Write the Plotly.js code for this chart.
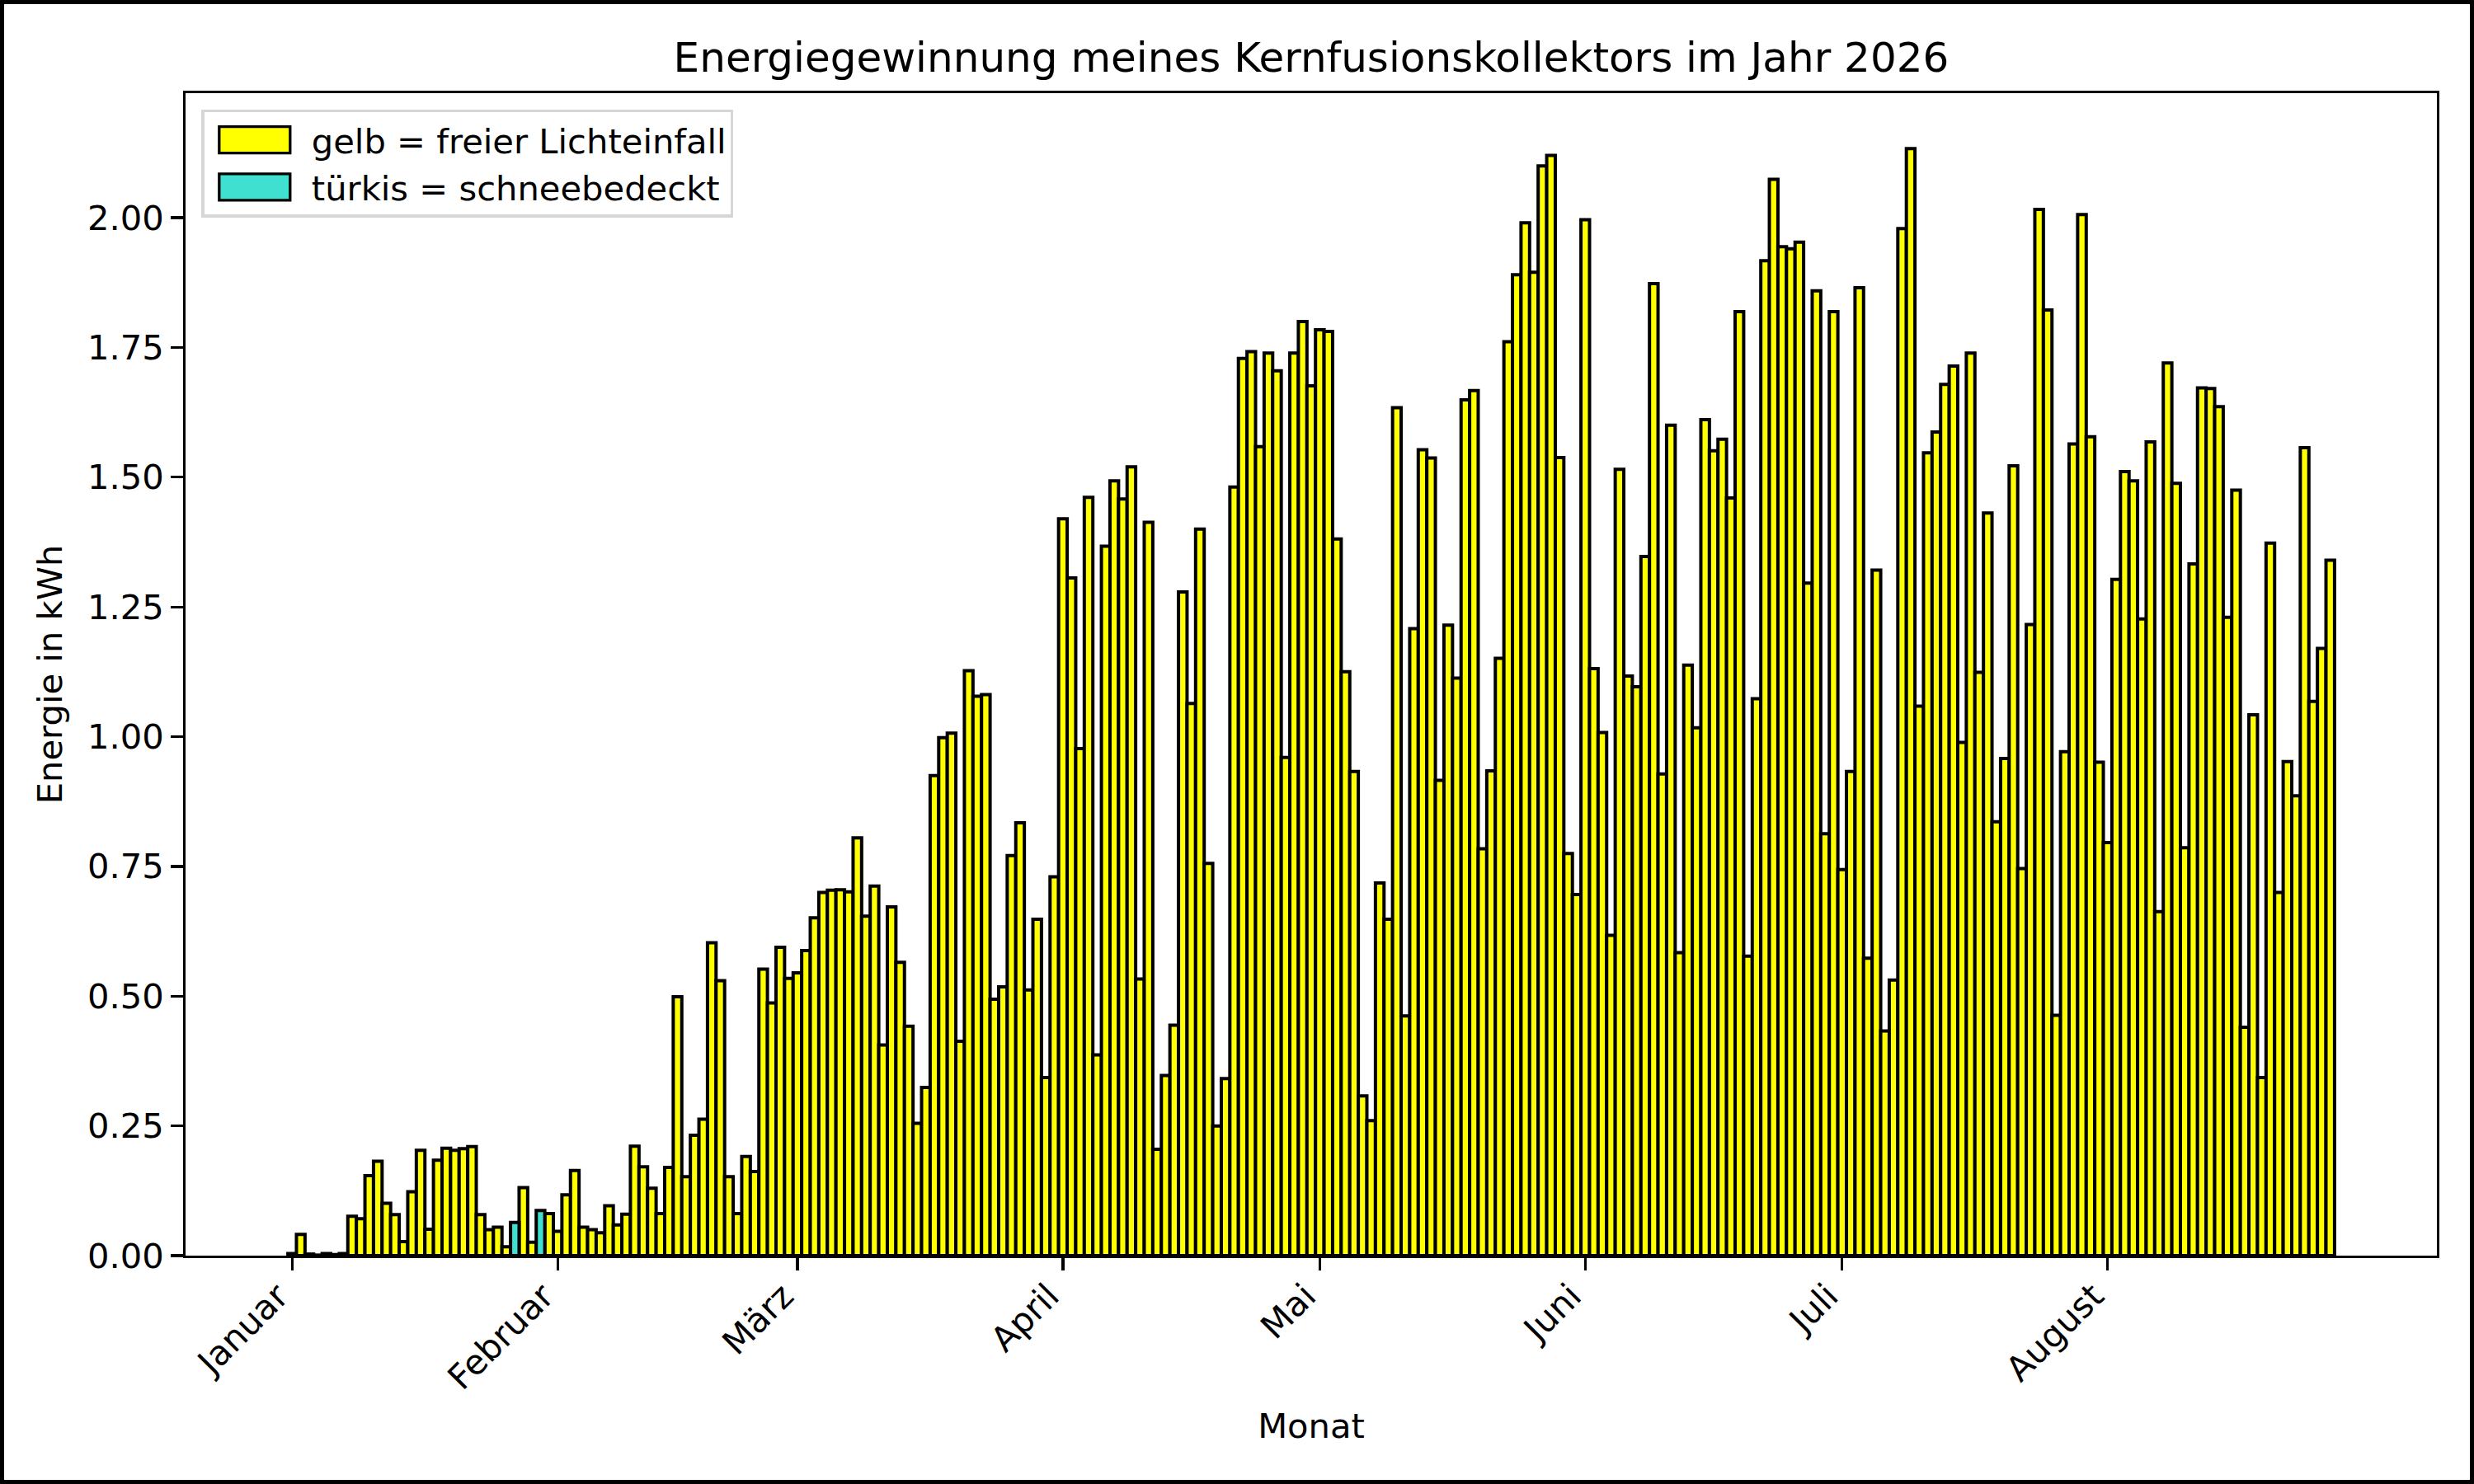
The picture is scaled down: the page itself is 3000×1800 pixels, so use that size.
<!DOCTYPE html>
<html>
<head>
<meta charset="utf-8">
<script src="https://cdn.plot.ly/plotly-3.0.1.min.js"></script>
<style>
html, body { margin: 0; padding: 0; background: #ffffff; }
#chart { width: 3000px; height: 1800px; }
#frame { position: absolute; left: 0; top: 0; width: 3000px; height: 1800px; box-sizing: border-box; border: 5px solid #000; pointer-events: none; }
</style>
</head>
<body>
<div id="chart"></div>
<div id="frame"></div>
<script>
// ---- data (kWh per day) ----
const monthNames = ['Januar', 'Februar', 'März', 'April', 'Mai', 'Juni', 'Juli', 'August'];
const monthStarts = ['2026-01-01', '2026-02-01', '2026-03-01', '2026-04-01', '2026-05-01', '2026-06-01', '2026-07-01', '2026-08-01'];

const jan = [0.004, 0.041, 0.003, 0.001, 0.004, 0.002, 0.004, 0.076, 0.071, 0.154, 0.182, 0.101, 0.079, 0.027, 0.123, 0.203,
             0.051, 0.184, 0.207, 0.203, 0.206, 0.210, 0.079, 0.050, 0.055, 0.017, 0.064, 0.131, 0.026, 0.087, 0.081];
const feb = [0.047, 0.117, 0.164, 0.055, 0.050, 0.044, 0.096, 0.059, 0.080, 0.211, 0.171, 0.130, 0.081, 0.170,
             0.499, 0.152, 0.232, 0.263, 0.603, 0.530, 0.152, 0.081, 0.191, 0.162, 0.552, 0.487, 0.594, 0.534];
const mar = [0.545, 0.588, 0.651, 0.700, 0.704, 0.705, 0.701, 0.805, 0.654, 0.712, 0.406, 0.672, 0.565, 0.442, 0.255, 0.324,
             0.925, 0.998, 1.007, 0.413, 1.127, 1.078, 1.081, 0.494, 0.518, 0.771, 0.834, 0.512, 0.648, 0.343, 0.730];
const apr = [1.420, 1.306, 0.977, 1.461, 0.387, 1.367, 1.493, 1.458, 1.520, 0.533, 1.413, 0.205, 0.347, 0.444, 1.279,
             1.064, 1.400, 0.756, 0.250, 0.341, 1.481, 1.729, 1.742, 1.559, 1.739, 1.705, 0.960, 1.739, 1.800, 1.676];
const may = [1.784, 1.781, 1.381, 1.125, 0.933, 0.308, 0.260, 0.718, 0.648, 1.634, 0.462, 1.208, 1.553, 1.537, 0.916, 1.215,
             1.113, 1.649, 1.667, 0.784, 0.934, 1.151, 1.761, 1.890, 1.990, 1.895, 2.100, 2.120, 1.538, 0.775, 0.696];
const jun = [1.996, 1.131, 1.008, 0.617, 1.515, 1.117, 1.096, 1.347, 1.873, 0.928, 1.600, 0.584, 1.138, 1.017, 1.611,
             1.551, 1.573, 1.460, 1.819, 0.577, 1.073, 1.917, 2.074, 1.944, 1.940, 1.953, 1.296, 1.859, 0.813, 1.819];
const jul = [0.744, 0.933, 1.865, 0.573, 1.321, 0.433, 0.531, 1.979, 2.133, 1.059, 1.547, 1.587, 1.679, 1.714, 0.989, 1.739,
             1.124, 1.431, 0.836, 0.958, 1.522, 0.746, 1.216, 2.016, 1.822, 0.463, 0.971, 1.564, 2.006, 1.578, 0.951];
const aug = [0.796, 1.303, 1.511, 1.493, 1.227, 1.568, 0.663, 1.720, 1.488, 0.786, 1.333, 1.672, 1.671, 1.636,
             1.230, 1.475, 0.440, 1.042, 0.343, 1.373, 0.700, 0.952, 0.886, 1.557, 1.068, 1.170, 1.340];

const snowDays = ['2026-01-27', '2026-01-30'];
const yTickVals = [0, 0.25, 0.5, 0.75, 1.0, 1.25, 1.5, 1.75, 2.0];

// ---- build traces ----
const values = [].concat(jan, feb, mar, apr, may, jun, jul, aug);
const dates = values.map((v, i) => new Date(Date.UTC(2026, 0, 1 + i)).toISOString().slice(0, 10));
const isSnow = dates.map(d => snowDays.includes(d));
const yellowY = values.map((v, i) => (isSnow[i] ? null : v));
const snowX = dates.filter((d, i) => isSnow[i]);
const snowY = values.filter((v, i) => isSnow[i]);

const DAY = 86400000;
const FONT = 'DejaVu Sans, sans-serif';

const traces = [
  {
    type: 'bar', name: 'gelb = freier Lichteinfall',
    x: dates, y: yellowY, width: DAY,
    marker: { color: '#ffff00', line: { color: '#000000', width: 4 } }
  },
  {
    type: 'bar', name: 'türkis = schneebedeckt',
    x: snowX, y: snowY, width: DAY,
    marker: { color: '#40e0d0', line: { color: '#000000', width: 4 } }
  }
];

const layout = {
  width: 3000, height: 1800,
  margin: { l: 225, r: 45, t: 113, b: 277, pad: 0 },
  paper_bgcolor: '#ffffff', plot_bgcolor: '#ffffff',
  barmode: 'overlay', bargap: 0,
  font: { family: FONT, size: 41.67, color: '#000000' },
  title: {
    text: 'Energiegewinnung meines Kernfusionskollektors im Jahr 2026',
    font: { family: FONT, size: 50, color: '#000000' },
    x: 0.5, xref: 'paper', xanchor: 'center',
    y: 1 - 87 / 1800, yref: 'container', yanchor: 'bottom'
  },
  xaxis: {
    type: 'date',
    range: ['2025-12-19 13:12', '2026-09-08 10:48'],
    tickmode: 'array', tickvals: monthStarts, ticktext: monthNames,
    tickangle: -45, ticklabelshift: -17, ticklabelstandoff: -10,
    ticks: 'outside', ticklen: 14.6, tickwidth: 3.3, tickcolor: '#000000',
    tickfont: { family: FONT, size: 41.67, color: '#000000' },
    showline: true, linecolor: '#000000', linewidth: 3.3, mirror: true,
    showgrid: false, zeroline: false, automargin: false,
    title: { text: 'Monat', font: { family: FONT, size: 41.67, color: '#000000' }, standoff: 22 }
  },
  yaxis: {
    range: [0, 2.24],
    tickmode: 'array', tickvals: yTickVals, tickformat: '.2f',
    ticks: 'outside', ticklen: 14.6, tickwidth: 3.3, tickcolor: '#000000',
    tickfont: { family: FONT, size: 41.67, color: '#000000' },
    showline: true, linecolor: '#000000', linewidth: 3.3, mirror: true,
    showgrid: false, zeroline: false, automargin: false,
    title: { text: 'Energie in kWh', font: { family: FONT, size: 41.67, color: '#000000' }, standoff: 18 }
  },
  showlegend: true,
  legend: {
    x: 0.00714, y: 0.986, xanchor: 'left', yanchor: 'top',
    bgcolor: '#ffffff', bordercolor: '#d6d6d6', borderwidth: 3.3,
    font: { family: FONT, size: 41.67, color: '#000000' },
    itemwidth: 120, traceorder: 'normal'
  }
};

Plotly.newPlot('chart', traces, layout, { displayModeBar: false, staticPlot: true }).then(gd => {
  gd.querySelectorAll('.legend .legendpoints path').forEach(p => {
    p.setAttribute('d', 'M-47,-16H39V16H-47Z');
    p.style.strokeWidth = '3.3px';
  });
});
</script>
</body>
</html>
